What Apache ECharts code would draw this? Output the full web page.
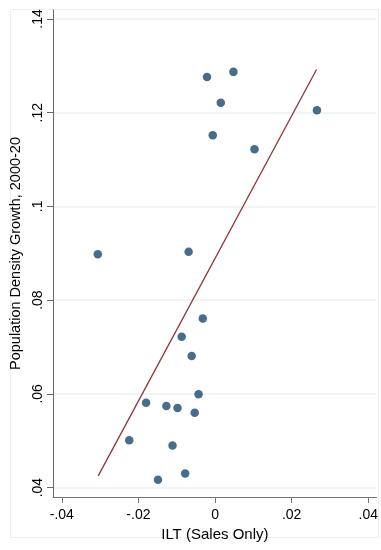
<!DOCTYPE html>
<html>
<head>
<meta charset="utf-8">
<script src="https://cdn.jsdelivr.net/npm/echarts@6/dist/echarts.min.js"></script>
<style>
html,body{margin:0;padding:0;background:#fff;}
#c{width:381px;height:550px;}
</style>
</head>
<body>
<div id="c"></div>
<script>
// Scatter data: ILT (Sales Only) vs Population Density Growth, 2000-20
const iltX = [-0.0306, -0.0069, -0.0032, -0.0087, -0.0061, -0.0043, -0.0180, -0.0127, -0.0098, -0.0053,
              -0.0224, -0.0111, -0.0078, -0.0149, -0.0021, 0.0048, 0.0015, -0.0006, 0.0103, 0.0266];
const growthY = [0.0898, 0.0903, 0.0761, 0.0722, 0.0681, 0.0599, 0.0581, 0.0574, 0.0570, 0.0560,
                 0.0501, 0.0490, 0.0430, 0.0417, 0.1276, 0.1287, 0.1221, 0.1152, 0.1122, 0.1205];
// Fitted line endpoints
const fitX = [-0.0305, 0.0265];
const fitY = [0.0425, 0.1292];
// Tick labels
const xTicks = [-0.04, -0.02, 0, 0.02, 0.04];
const xTickLabels = ['-.04', '-.02', '0', '.02', '.04'];
const yTicks = [0.04, 0.06, 0.08, 0.10, 0.12, 0.14];
const yTickLabels = ['.04', '.06', '.08', '.1', '.12', '.14'];

const chart = echarts.init(document.getElementById('c'), null, {renderer: 'canvas'});
const font = 'Liberation Sans, Arial, sans-serif';
function fmt(v, ticks, labels) {
  for (let i = 0; i < ticks.length; i++) if (Math.abs(v - ticks[i]) < 1e-9) return labels[i];
  return '';
}
const option = {
  backgroundColor: '#ffffff',
  animation: false,
  graphic: [{
    type: 'rect', silent: true, z: -1,
    shape: {x: 10.5, y: 9.5, width: 368, height: 528},
    style: {fill: 'none', stroke: '#eaf0f2', lineWidth: 1}
  }],
  grid: {left: 53, right: 3, top: 10, bottom: 53, containLabel: false},
  xAxis: {
    type: 'value', min: -0.0423, max: 0.0422,
    name: 'ILT (Sales Only)', nameLocation: 'middle', nameGap: 19,
    nameTextStyle: {fontFamily: font, fontSize: 15, color: '#000'},
    axisLine: {show: true, onZero: false, lineStyle: {color: '#777', width: 1}},
    axisTick: {show: true, length: 6, customValues: xTicks, lineStyle: {color: '#777'}},
    axisLabel: {customValues: xTicks, formatter: v => fmt(v, xTicks, xTickLabels),
      fontFamily: font, fontSize: 14, color: '#000', margin: 11},
    splitLine: {show: false}
  },
  yAxis: {
    type: 'value', min: 0.038, max: 0.1419,
    name: 'Population Density Growth, 2000-20', nameLocation: 'middle', nameGap: 20,
    nameRotate: 90,
    nameTextStyle: {fontFamily: font, fontSize: 14.5, color: '#000'},
    axisLine: {show: true, onZero: false, lineStyle: {color: '#666', width: 1}},
    axisTick: {show: true, length: 6, customValues: yTicks, lineStyle: {color: '#666'}},
    axisLabel: {customValues: yTicks, formatter: v => fmt(v, yTicks, yTickLabels), rotate: 90,
      fontFamily: font, fontSize: 14, color: '#000', margin: 8},
    splitLine: {show: true, lineStyle: {color: '#eaf2f3', width: 1.5}}
  },
  series: [
    {
      type: 'scatter', symbol: 'circle', symbolSize: 8.5,
      itemStyle: {color: '#1a476f'},
      data: iltX.map((x, i) => [x, growthY[i]]),
      z: 3
    },
    {
      type: 'line', symbol: 'none',
      lineStyle: {color: '#90353b', width: 1.3},
      data: fitX.map((x, i) => [x, fitY[i]]),
      z: 2
    }
  ]
};
chart.setOption(option);
</script>
</body>
</html>
